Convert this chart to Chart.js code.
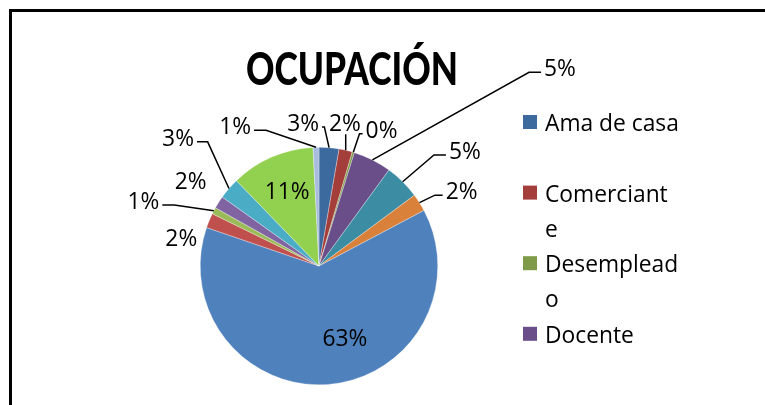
<!DOCTYPE html>
<html>
<head>
<meta charset="utf-8">
<script src="https://cdn.jsdelivr.net/npm/chart.js@4/dist/chart.umd.min.js"></script>
<style>
html, body { margin: 0; padding: 0; background: #fff; overflow: hidden; }
#wrap { position: relative; width: 765px; height: 405px; overflow: hidden; }
#frame { position: absolute; left: 9px; top: 9px; width: 900px; height: 600px; border: 3px solid #000; pointer-events: none; }
canvas { position: absolute; left: 0; top: 0; }
</style>
</head>
<body>
<div id="wrap">
    <canvas id="ocupacion_chart_area" width="765" height="405"></canvas>
    <div id="frame"></div>
</div>
<script>
"use strict";

var chartTitle = "OCUPACIÓN";
// only the first four legend entries are visible in the frame
var categories = ["Ama de casa", "Comerciante", "Desempleado", "Docente"];
var values = [2.7, 1.8, 0.3, 5.2, 4.8, 2.4, 62.8, 2.0, 0.9, 1.7, 2.9, 11.4, 0.8];
var sliceColors = [
    "#3D6A9E", "#A43E3B", "#7F9A48", "#6A4E8A", "#3C8DA3", "#D9803A",
    "#4F81BD", "#C0504D", "#9BBB59", "#8064A2", "#4BACC6", "#92D050", "#A9BCDD"
];

// label placement per slice: angle (deg, clockwise from top), distance in radii, leader line
var labelSpots = [
    [-6.3, 1.22, true], [10.2, 1.23, true], [24.5, 1.27, true], [50.5, 2.63, true],
    [51.5, 1.57, true], [62, 1.36, true], [160, 0.64, false], [-78.1, 1.185, false],
    [-69.4, 1.58, true], [-56.3, 1.30, false], [-47.5, 1.61, true], [-22.8, 0.69, false],
    [-30.8, 1.38, true]
];

var labelFont = "22.8px 'Open Sans'";
var textNudge = 2.5; // Open Sans sits a little high with a "middle" baseline

function wrapChars(ctx, text, maxWidth) {
    var lines = [];
    var line = "";
    for (var i = 0; i < text.length; i++) {
        var test = line + text[i];
        if (ctx.measureText(test).width > maxWidth && line.length > 0) {
            lines.push(line);
            line = text[i];
        } else {
            line = test;
        }
    }
    lines.push(line);
    return lines;
}

var excelPieExtras = {
    id: "excelPieExtras",
    afterDatasetsDraw: function (chart) {
        var ctx = chart.ctx;
        var meta = chart.getDatasetMeta(0);
        var total = values.reduce(function (a, b) { return a + b; }, 0);

        ctx.save();
        // slice percentages with leader lines
        ctx.font = labelFont;
        ctx.fillStyle = "#000";
        ctx.strokeStyle = "#000";
        ctx.lineWidth = 1.5;
        ctx.textAlign = "center";
        ctx.textBaseline = "middle";
        meta.data.forEach(function (arc, i) {
            var p = arc.getProps(["x", "y", "startAngle", "endAngle", "outerRadius"], true);
            var spot = labelSpots[i];
            var a = spot[0] * Math.PI / 180;
            var tx = p.x + Math.sin(a) * spot[1] * p.outerRadius;
            var ty = p.y - Math.cos(a) * spot[1] * p.outerRadius;
            var text = Math.round(values[i] / total * 100) + "%";
            var w = ctx.measureText(text).width;
            if (spot[2]) {
                var mid = (p.startAngle + p.endAngle) / 2;
                var ex = p.x + Math.cos(mid) * p.outerRadius;
                var ey = p.y + Math.sin(mid) * p.outerRadius;
                var left = tx - w / 2, right = tx + w / 2;
                var sx, sy, stub;
                ctx.beginPath();
                if (ex > right + 2) {
                    sx = right + 3; sy = ty + 5;
                    stub = Math.min(12, (ex - sx) / 3);
                    ctx.moveTo(sx, sy);
                    ctx.lineTo(sx + stub, sy);
                } else if (ex < left - 2) {
                    sx = left - 3; sy = ty + 5;
                    stub = Math.min(12, (sx - ex) / 3);
                    ctx.moveTo(sx, sy);
                    ctx.lineTo(sx - stub, sy);
                } else {
                    ctx.moveTo(ex, ty + 12);
                }
                ctx.lineTo(ex, ey);
                ctx.stroke();
            }
            ctx.fillText(text, tx, ty + textNudge);
        });

        // title, squeezed horizontally like a condensed bold face
        ctx.font = "900 46px Lato";
        ctx.textAlign = "center";
        ctx.textBaseline = "alphabetic";
        var tw = ctx.measureText(chartTitle).width;
        ctx.save();
        ctx.translate(352, 85);
        ctx.scale(212 / tw, 1);
        ctx.fillText(chartTitle, 0, 0);
        ctx.restore();

        // legend (Excel style, wrapped inside a narrow column)
        ctx.font = labelFont;
        ctx.textAlign = "left";
        ctx.textBaseline = "middle";
        var lineH = 35.3;
        categories.forEach(function (name, i) {
            var cy = 122 + i * 2 * lineH;
            ctx.fillStyle = sliceColors[i];
            ctx.fillRect(523, cy - 7, 14, 14);
            ctx.fillStyle = "#000";
            wrapChars(ctx, name, 135).forEach(function (ln, k) {
                ctx.fillText(ln, 545, cy + k * lineH + textNudge);
            });
        });
        ctx.restore();
    }
};

var chartArea = document.getElementById("ocupacion_chart_area");
var ocupacionPie = new Chart(chartArea, {
    type: 'pie',
    data: {
        labels: categories,
        datasets: [
            {
                data: values,
                backgroundColor: sliceColors,
                borderColor: 'rgba(255, 255, 255, 0.6)',
                borderWidth: 0.5
            }
        ]
    },
    options: {
        responsive: false,
        animation: false,
        devicePixelRatio: 1,
        layout: { padding: { left: 200, right: 327, top: 147, bottom: 20 } },
        plugins: {
            legend: { display: false },
            title: { display: false },
            tooltip: { enabled: false }
        }
    },
    plugins: [excelPieExtras]
});
</script>
</body>
</html>
